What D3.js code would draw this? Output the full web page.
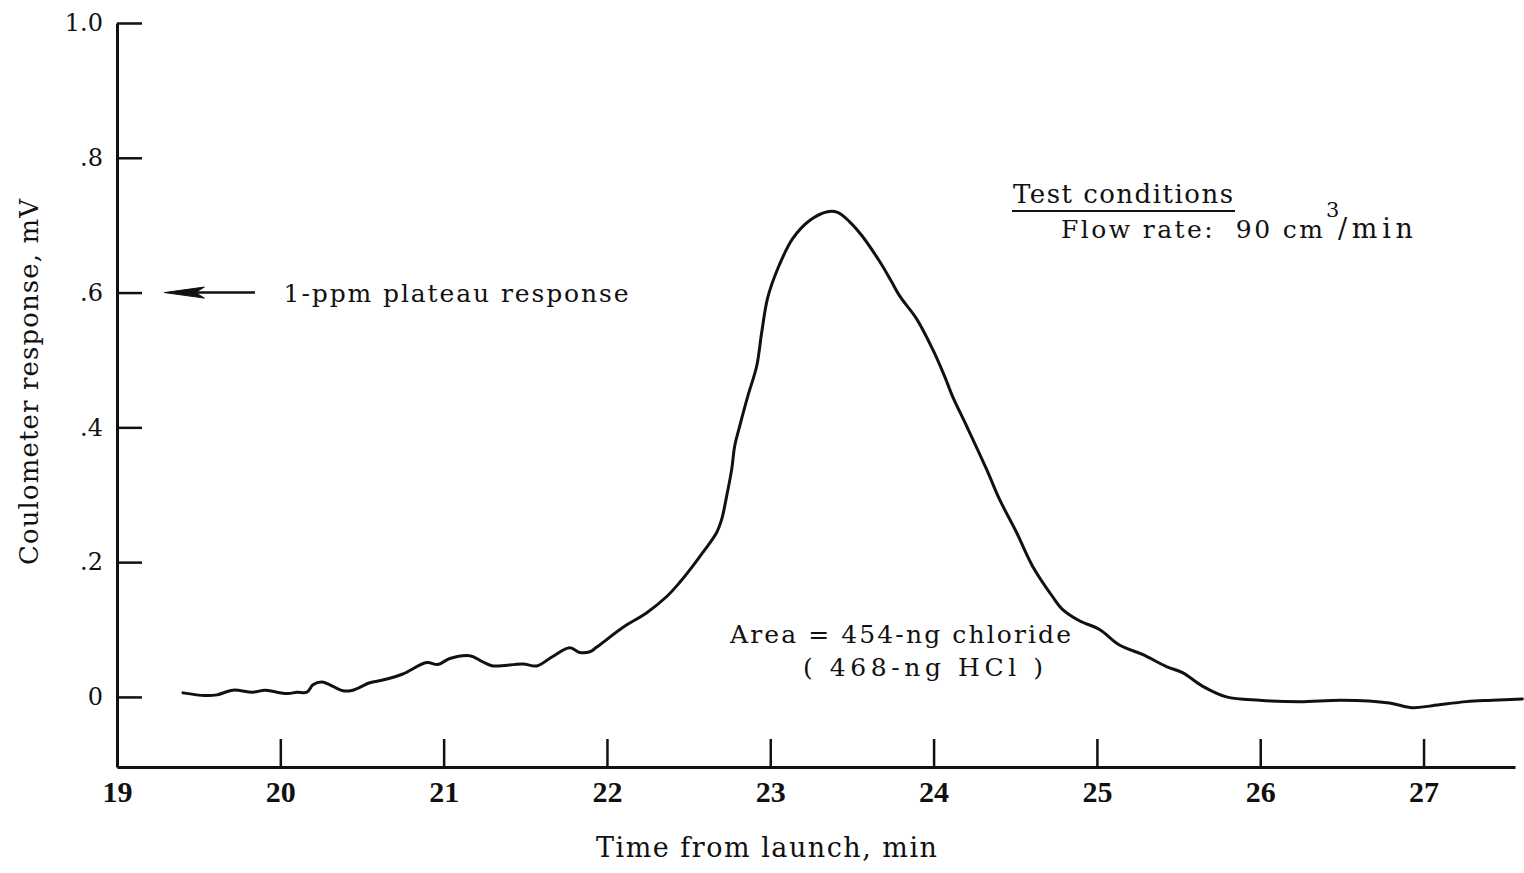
<!DOCTYPE html>
<html>
<head>
<meta charset="utf-8">
<script src="https://cdn.jsdelivr.net/npm/d3@7/dist/d3.min.js"></script>
<style>
  html, body { margin: 0; padding: 0; background: #fff; }
  svg { display: block; }
  text { font-family: "DejaVu Serif", "Liberation Serif", serif; fill: #111; }
</style>
</head>
<body>
<svg id="chart" width="1524" height="873"></svg>
<script>
// ---- data ----
const times = [19.404,19.539,19.612,19.710,19.832,19.906,19.979,20.047,20.102,20.163,
  20.200,20.255,20.304,20.383,20.444,20.548,20.628,20.750,20.897,20.964,
  21.038,21.160,21.240,21.301,21.485,21.570,21.668,21.772,21.834,21.895,
  21.938,22.097,22.244,22.366,22.446,22.525,22.586,22.672,22.702,22.733,
  22.764,22.782,22.813,22.862,22.917,22.947,22.984,23.045,23.137,23.241,
  23.351,23.412,23.486,23.559,23.670,23.743,23.792,23.896,23.994,24.067,
  24.116,24.202,24.324,24.404,24.508,24.606,24.728,24.789,24.893,25.016,
  25.138,25.279,25.426,25.524,25.646,25.793,25.995,26.240,26.503,26.791,
  26.931,27.054,27.262,27.421,27.605];
const response = [0.006,0.002,0.003,0.010,0.007,0.010,0.007,0.005,0.007,0.007,
  0.018,0.022,0.018,0.009,0.010,0.021,0.025,0.034,0.051,0.048,
  0.057,0.061,0.052,0.046,0.049,0.046,0.060,0.073,0.066,0.067,
  0.074,0.103,0.125,0.149,0.170,0.194,0.214,0.244,0.263,0.298,
  0.338,0.372,0.402,0.446,0.491,0.540,0.592,0.635,0.680,0.707,
  0.720,0.719,0.705,0.685,0.646,0.616,0.595,0.561,0.516,0.476,
  0.446,0.402,0.338,0.293,0.244,0.194,0.149,0.130,0.113,0.100,
  0.077,0.063,0.045,0.036,0.016,0.000,-0.005,-0.007,-0.005,-0.009,
  -0.016,-0.013,-0.007,-0.005,-0.003];
const xTicks = [19,20,21,22,23,24,25,26,27];
const xTickLabels = ["19","20","21","22","23","24","25","26","27"];
const yTicks = [0,0.2,0.4,0.6,0.8,1.0];
const yTickLabels = ["0",".2",".4",".6",".8","1.0"];
const xTitle = "Time from launch, min";
const yTitle = "Coulometer response, mV";
const plateauLevel = 0.6;
const plateauText = "1-ppm plateau response";
const condTitle = "Test conditions";
const flowText = "Flow rate:\u00A0 90 cm";
const flowSup = "3";
const flowUnit = "/min";
const areaText1 = "Area = 454-ng chloride";
const areaText2 = "( 468-ng HCl )";

// ---- scales ----
const svg = d3.select("#chart");
const x = d3.scaleLinear().domain([19, 27.56]).range([117, 1515]);
const y = d3.scaleLinear().domain([-0.104, 1.0]).range([767, 23]);

// ---- axes ----
const yAxis = d3.axisLeft(y)
  .tickValues(yTicks)
  .tickFormat((d, i) => yTickLabels[i])
  .tickSize(-25).tickSizeOuter(0).tickPadding(14);
const gy = svg.append("g").attr("transform", "translate(117,0)").call(yAxis);
gy.select(".domain").attr("stroke", "#111").attr("stroke-width", 3);
gy.selectAll(".tick line").attr("stroke", "#111").attr("stroke-width", 2.5);
gy.selectAll(".tick text").attr("font-size", 24).attr("fill", "#111")
  .style("font-family", "'DejaVu Serif', serif");

const xAxis = d3.axisBottom(x)
  .tickValues(xTicks)
  .tickFormat((d, i) => xTickLabels[i])
  .tickSize(-28).tickSizeOuter(0).tickPadding(14);
const gx = svg.append("g").attr("transform", "translate(0,767)").call(xAxis);
gx.select(".domain").attr("stroke", "#111").attr("stroke-width", 3);
gx.selectAll(".tick line").attr("stroke", "#111").attr("stroke-width", 2.5);
gx.selectAll(".tick text").attr("font-size", 30).attr("font-weight", "bold")
  .attr("fill", "#111").style("font-family", "'Liberation Serif', serif");

// ---- curve ----
const pts = times.map((t, i) => [t, response[i]]);
const line = d3.line()
  .x(d => x(d[0])).y(d => y(d[1]))
  .curve(d3.curveCatmullRom.alpha(0.5));
svg.append("path").datum(pts)
  .attr("d", line)
  .attr("fill", "none").attr("stroke", "#111")
  .attr("stroke-width", 3).attr("stroke-linejoin", "round").attr("stroke-linecap", "round");

// ---- plateau arrow ----
const ay = y(plateauLevel);
const tipX = x(19.29);
const tailX = x(19.845);
svg.append("line").attr("x1", tipX + 28).attr("x2", tailX)
  .attr("y1", ay).attr("y2", ay).attr("stroke", "#111").attr("stroke-width", 2.5);
svg.append("path")
  .attr("d", `M${tipX},${ay} L${tipX + 40},${ay - 5.5} L${tipX + 31},${ay} L${tipX + 40},${ay + 5.5} Z`)
  .attr("fill", "#111").attr("stroke", "#111").attr("stroke-width", 1);
svg.append("text").attr("x", x(20.02)).attr("y", ay + 9)
  .attr("font-size", 25).attr("textLength", 345).attr("lengthAdjust", "spacing")
  .text(plateauText);

// ---- test conditions ----
svg.append("text").attr("x", 1013).attr("y", 203)
  .attr("font-size", 26).attr("textLength", 220).attr("lengthAdjust", "spacing")
  .text(condTitle);
svg.append("line").attr("x1", 1012).attr("x2", 1235).attr("y1", 211).attr("y2", 211)
  .attr("stroke", "#111").attr("stroke-width", 2);
svg.append("text").attr("x", 1061).attr("y", 238)
  .attr("font-size", 25).attr("textLength", 262).attr("lengthAdjust", "spacing")
  .text(flowText);
svg.append("text").attr("x", 1326).attr("y", 217).attr("font-size", 21).text(flowSup);
svg.append("text").attr("x", 1338).attr("y", 238)
  .attr("font-size", 27).attr("textLength", 75).attr("lengthAdjust", "spacing")
  .text(flowUnit);

// ---- area annotation ----
svg.append("text").attr("x", 730).attr("y", 643)
  .attr("font-size", 25).attr("textLength", 341).attr("lengthAdjust", "spacing")
  .text(areaText1);
svg.append("text").attr("x", 803).attr("y", 676)
  .attr("font-size", 25).attr("textLength", 240).attr("lengthAdjust", "spacing")
  .text(areaText2);

// ---- axis titles ----
svg.append("text").attr("x", 596).attr("y", 857)
  .attr("font-size", 27).attr("textLength", 341).attr("lengthAdjust", "spacing")
  .text(xTitle);
svg.append("text")
  .attr("transform", "translate(38,565) rotate(-90)")
  .attr("x", 0).attr("y", 0)
  .attr("font-size", 26).attr("textLength", 366).attr("lengthAdjust", "spacing")
  .text(yTitle);
</script>
</body>
</html>
